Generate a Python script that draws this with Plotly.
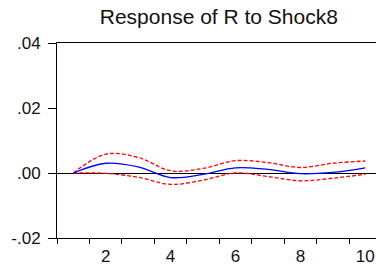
import plotly.graph_objects as go

periods = [1, 2, 3, 4, 5, 6, 7, 8, 9, 10]
response = [0.0, 0.0030, 0.0019, -0.0014, -0.0004, 0.0016, 0.0011, -0.0002, 0.0002, 0.0016]
upper = [0.0, 0.0058, 0.0048, 0.0007, 0.0014, 0.0038, 0.0032, 0.0017, 0.0030, 0.0037]
lower = [0.0, -0.0001, -0.0013, -0.0035, -0.0022, 0.0000, -0.0011, -0.0024, -0.0016, -0.0004]

x_labels = [2, 4, 6, 8, 10]
y_vals = [-0.02, 0.0, 0.02, 0.04]
y_text = ["-.02", ".00", ".02", ".04"]

fig = go.Figure()
for band in (upper, lower):
    fig.add_trace(go.Scatter(x=periods, y=band, mode="lines",
                             line=dict(color="#ff0000", width=1.3, dash="4px,2px", shape="spline"),
                             showlegend=False, hoverinfo="skip"))
fig.add_trace(go.Scatter(x=periods, y=response, mode="lines",
                         line=dict(color="#0000ff", width=1.3, shape="spline"),
                         showlegend=False))

fig.update_layout(
    width=376, height=265,
    margin=dict(l=57, r=0, t=43, b=27, autoexpand=False),
    paper_bgcolor="white", plot_bgcolor="white",
    font=dict(family="Liberation Sans, Arial, sans-serif", size=17, color="#111111"),
    title=dict(text="Response of R to Shock8", x=0.582, xanchor="center", y=0.937, yanchor="middle",
               font=dict(size=21, color="#111111")),
    showlegend=False,
)
fig.update_xaxes(range=[0.5, 10.33], tickmode="array", tickvals=x_labels,
                 ticktext=[str(v) for v in x_labels], ticks="", automargin=False,
                 ticklabelstandoff=3,
                 showline=True, linecolor="black", linewidth=1, mirror=True,
                 showgrid=False, zeroline=False,
                 minor=dict(ticks="outside", tick0=0.5, dtick=1, ticklen=5, tickcolor="black", showgrid=False))
fig.update_yaxes(range=[-0.02, 0.04], tickmode="array", tickvals=y_vals, ticktext=y_text,
                 ticks="outside", ticklen=8, tickcolor="black", automargin=False,
                 ticklabelstandoff=4,
                 showline=True, linecolor="black", linewidth=1,
                 showgrid=False, zeroline=True, zerolinecolor="black", zerolinewidth=1)

fig.write_html("out.html", config={"displayModeBar": False},
               post_script="document.body.style.margin='0';")
